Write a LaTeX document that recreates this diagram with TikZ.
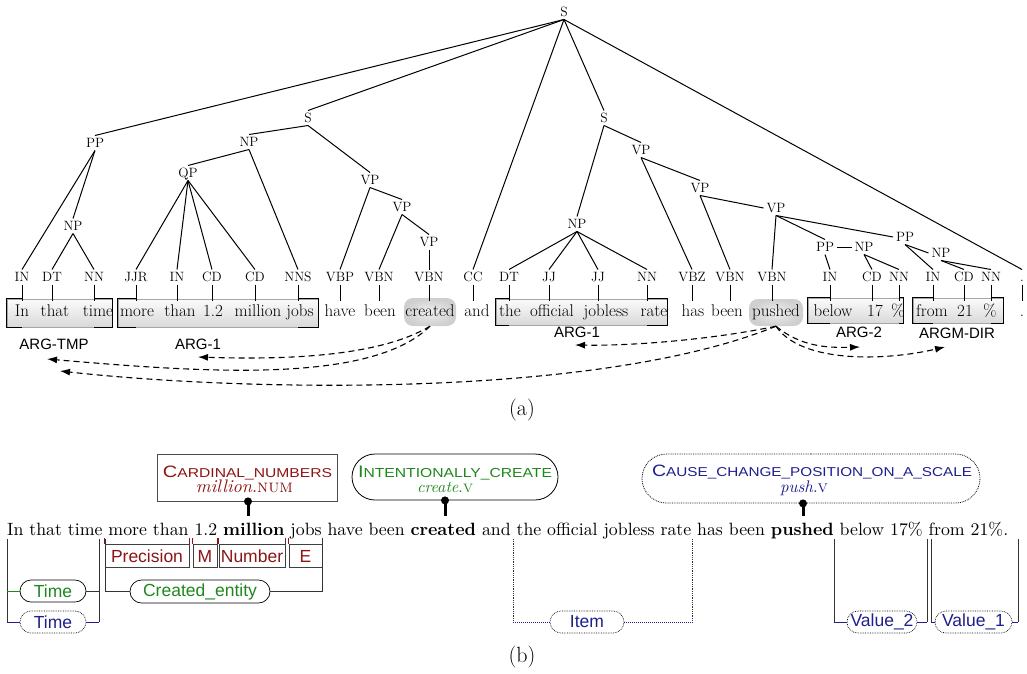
\documentclass[tikz,border=0pt]{standalone}
\usepackage{fontspec}
\newfontfamily\lab{Liberation Sans}
\usetikzlibrary{arrows.meta,shapes.misc}
\definecolor{fred}{RGB}{140,20,20}
\definecolor{fgreen}{RGB}{30,135,30}
\definecolor{fblue}{RGB}{30,30,140}
\tikzset{
 tag/.style={font=\fontsize{13.5}{14}\selectfont, inner sep=1pt, outer sep=2pt, text height=9pt, text depth=0pt},
 wrd/.style={font=\fontsize{17}{19}\selectfont, inner sep=1pt, outer sep=3pt, text height=11.5pt, text depth=3.5pt},
 tedge/.style={line width=1pt},
 brk/.style={line width=1.2pt},
 spanbox/.style={draw=gray!70, line width=0.4pt, top color=gray!3, bottom color=gray!30, inner sep=0pt},
 pill/.style={rounded corners=9pt, inner color=gray!12, outer color=gray!38, inner sep=0pt},
 argl/.style={font=\lab\fontsize{15}{16}\selectfont, inner sep=1pt},
 darr/.style={dash pattern=on 6pt off 4pt, line width=1.1pt, -{Latex[length=10pt,width=7pt]}},
 frm/.style={draw, line width=0.8pt, inner sep=0pt},
 role/.style={rounded rectangle, draw, line width=0.7pt, inner sep=0pt, minimum height=22pt, font=\lab\fontsize{17.5}{18}\selectfont},
 fe/.style={rectangle, draw=black!75, line width=0.7pt, inner sep=0pt, minimum height=23pt, text=fred, font=\lab\fontsize{17.5}{18}\selectfont},
 brl/.style={line width=0.8pt, black!80},
 capt/.style={font=\fontsize{22}{24}\selectfont},
}
\begin{document}
\begin{tikzpicture}[x=1pt,y=-1pt]
\useasboundingbox (0,0) rectangle (1027,673);

% ---------- (a) span boxes ----------
\node[spanbox, minimum width=105pt, minimum height=28pt] (b1) at (59.5,313) {};
\node[spanbox, minimum width=200pt, minimum height=28pt] (b2) at (218,313) {};
\node[spanbox, minimum width=171pt, minimum height=26pt] (b3) at (581.5,312) {};
\node[spanbox, minimum width=95pt, minimum height=25pt] (b4) at (855.5,310.5) {};
\node[spanbox, minimum width=90pt, minimum height=25pt] (b5) at (958,310.5) {};
\node[pill, minimum width=52pt, minimum height=28pt] (crp) at (430,312) {};
\node[pill, minimum width=54pt, minimum height=27pt] (pup) at (776,312.5) {};

% ---------- tree internal nodes ----------
\node[tag] (S) at (564,12) {S};
\node[tag] (PP1) at (95,143) {PP};
\node[tag] (NP1) at (73,226) {NP};
\node[tag] (S1) at (308,118) {S};
\node[tag] (NP2) at (249,142) {NP};
\node[tag] (QP) at (188,173) {QP};
\node[tag] (VP1) at (370,180) {VP};
\node[tag] (VP2) at (402,207) {VP};
\node[tag] (VP3) at (429,242) {VP};
\node[tag] (S2) at (604,118) {S};
\node[tag] (NP3) at (577,224) {NP};
\node[tag] (VP4) at (641,150) {VP};
\node[tag] (VP5) at (700,188) {VP};
\node[tag] (VP6) at (776,208) {VP};
\node[tag] (PP2) at (825,247) {PP};
\node[tag] (NP4) at (864,247) {NP};
\node[tag] (PP3) at (905,237) {PP};
\node[tag] (NP5) at (941,253) {NP};

% ---------- tags and words ----------
\foreach \i/\tx/\wx/\t/\w in {
 1/22/22/IN/In, 2/52/55/DT/that, 3/94/98/NN/time, 4/136/137/JJR/more, 5/177/180/IN/than,
 6/212/213/CD/1.2, 7/255/258/CD/million, 8/298/300/NNS/jobs, 9/340/340/VBP/have,
 10/379/380/VBN/been, 11/429/430/VBN/created, 12/473/477/CC/and, 13/509/510/DT/the,
 14/549/552/JJ/official, 15/598/606/JJ/jobless, 16/647/654/NN/rate, 17/692/693/VBZ/has,
 18/730/727/VBN/been, 19/772/776/VBN/pushed, 20/830/833/IN/below, 21/872/875/CD/17,
 22/899/898/NN/\%, 23/933/932/IN/from, 24/964/965/CD/21, 25/991/990/NN/\%, 26/1022/1022/./.}{
 \node[tag] (t\i) at (\tx,277) {\t};
 \node[wrd] (w\i) at (\wx,312) {\w};
 \draw[tedge] (t\i.south) -- (t\i.south |- w\i.north);
}

% ---------- tree edges ----------
\foreach \p/\c in {S/PP1, S/S1, S/t12, S/S2, S/t26, PP1/t1, PP1/NP1, NP1/t2, NP1/t3,
 S1/NP2, S1/VP1, NP2/QP, NP2/t8, QP/t4, QP/t5, QP/t6, QP/t7, VP1/t9, VP1/VP2,
 VP2/t10, VP2/VP3, VP3/t11, S2/NP3, S2/VP4, NP3/t13, NP3/t14, NP3/t15, NP3/t16,
 VP4/t17, VP4/VP5, VP5/t18, VP6/t19, VP6/PP2, PP2/t20, NP4/t21, NP4/t22,
 PP3/t23, NP5/t24, NP5/t25}
 \draw[tedge] (\p.south) -- (\c.north);
\draw[tedge] (VP5.south) -- (VP6.west);
\draw[tedge] (VP6.south) -- (PP3.west);
\draw[tedge] (PP2.east) -- (NP4.west);
\draw[tedge] (PP3.south) -- (NP5.west);

% ---------- brackets ----------
\foreach \b/\l/\r in {b1/t1/t3, b2/t4/t8, b3/t13/t16, b4/t20/t22, b5/t23/t25}{
 \draw[brk] (\b.north west -| \l) -- (\b.north west) -- (\b.south west) -- (\b.south west -| \l);
 \draw[brk] (\b.north east -| \r) -- (\b.north east) -- (\b.south east) -- (\b.south east -| \r);
}

% ---------- argument labels ----------
\node[argl] (lTMP) at (54,344) {ARG-TMP};
\node[argl] (lA1) at (198,344) {ARG-1};
\node[argl] (lA1b) at (577,332) {ARG-1};
\node[argl] (lA2) at (859,332) {ARG-2};
\node[argl] (lDIR) at (957,333) {ARGM-DIR};

% ---------- dashed arrows ----------
\coordinate (a1) at (198,357);
\coordinate (a2) at (47,359);
\coordinate (a3) at (575,345);
\coordinate (a4) at (60,371);
\coordinate (a5) at (860,347);
\coordinate (a6) at (945,347);
\draw[darr] (crp.south) .. controls (380,356) and (290,360) .. (a1);
\draw[darr] (crp.south) .. controls (370,385) and (200,372) .. (a2);
\draw[darr] (pup.south) .. controls (720,338) and (640,346) .. (a3);
\draw[darr] (pup.south) .. controls (600,398) and (250,392) .. (a4);
\draw[darr] (pup.south) .. controls (800,346) and (825,348) .. (a5);
\draw[darr] (pup.south) .. controls (800,362) and (880,362) .. (a6);

\node[capt] (capa) at (522,410) {(a)};

% ---------- (b) frames ----------
\node[frm, rectangle, draw=black!70, minimum width=180pt, minimum height=47pt] (f1) at (247,477.5) {};
\node[anchor=base, inner sep=0pt, text=fred] (f1a) at (247.5,477) {\resizebox{169pt}{11.5pt}{\lab\fontsize{16}{16}\selectfont C\fontsize{12.5}{12.5}\selectfont ARDINAL\_NUMBERS}};
\node[anchor=base, inner sep=0pt, text=fred] (f1b) at (244.5,492.5) {\resizebox{97pt}{!}{\itshape million\upshape.\textsc{num}}};

\node[frm, rounded rectangle, minimum width=206pt, minimum height=46pt] (f2) at (455,477) {};
\node[anchor=base, inner sep=0pt, text=fgreen] (f2a) at (455,477) {\resizebox{194pt}{11.5pt}{\lab\fontsize{16}{16}\selectfont I\fontsize{12.5}{12.5}\selectfont NTENTIONALLY\_CREATE}};
\node[anchor=base, inner sep=0pt, text=fgreen] (f2b) at (445,492.5) {\resizebox{56pt}{!}{\itshape create\upshape.\textsc{v}}};

\node[frm, rounded rectangle, densely dotted, minimum width=338pt, minimum height=49pt] (f3) at (811,478.5) {};
\node[anchor=base, inner sep=0pt, text=fblue] (f3a) at (812,476) {\resizebox{320pt}{11.5pt}{\lab\fontsize{16}{16}\selectfont C\fontsize{12.5}{12.5}\selectfont AUSE\_CHANGE\_POSITION\_ON\_A\_SCALE}};
\node[anchor=base, inner sep=0pt, text=fblue] (f3b) at (804,492) {\resizebox{48pt}{!}{\itshape push\upshape.\textsc{v}}};

\coordinate (e1) at (248,516);
\coordinate (e2) at (445,516);
\coordinate (e3) at (803,516);
\draw[line width=3pt] (f1.south -| e1) -- (e1);
\fill (f1.south -| e1) circle (4pt);
\draw[line width=3pt] (f2.south -| e2) -- (e2);
\fill (f2.south -| e2) circle (4pt);
\draw[line width=3pt] (f3.south -| e3) -- (e3);
\fill (f3.south -| e3) circle (4pt);

% ---------- sentence ----------
\node[anchor=base west, inner sep=0pt] (sent) at (7,535) {\resizebox{1001pt}{!}{In that time more than 1.2 \textbf{million} jobs have been \textbf{created} and the official jobless rate has been \textbf{pushed} below 17\% from 21\%.}};

% ---------- frame elements ----------
\node[fe, minimum width=84pt] (fe1) at (147,556) {Precision};
\node[fe, minimum width=24pt] (fe2) at (205,556) {M};
\node[fe, minimum width=66pt] (fe3) at (252,556) {Number};
\node[fe, minimum width=33pt] (fe4) at (305.5,556) {E};
\foreach \n in {fe1,fe2,fe3,fe4}{
 \draw[fred, line width=0.7pt] (\n.north west) -- ++(0,-6);
 \draw[fred, line width=0.7pt] (\n.north east) -- ++(0,-6);
}

% Time (green) and Time (blue)
\node[role, text=fgreen, minimum width=66pt] (tg) at (53,591) {Time};
\node[role, densely dotted, text=fblue, minimum width=66pt] (tb) at (53,622) {Time};
\draw[brl] (7,539) -- (7,622);
\draw[brl] (99,539) -- (99,622);
\draw[fgreen, line width=0.8pt] (7,591) -- (tg.west);
\draw[brl] (tg.east) -- (99,591);
\draw[fblue, line width=0.8pt] (7,622) -- (tb.west);
\draw[fblue, line width=0.8pt] (tb.east) -- (99,622);

% Created_entity
\node[role, text=fgreen, minimum width=140pt, minimum height=23pt] (ce) at (200,591.5) {Created\_entity};
\draw[brl] (105,539) |- (ce.west);
\draw[brl] (322,539) |- (ce.east);

% Item
\node[role, densely dotted, text=fblue, minimum width=74pt] (it) at (587,622) {Item};
\draw[brl, densely dotted, line width=1pt] (513,539) -- (513,622);
\draw[brl, densely dotted, line width=1pt] (692,539) -- (692,622);
\draw[fblue, densely dotted, line width=1pt] (513,622) -- (it.west);
\draw[fblue, densely dotted, line width=1pt] (it.east) -- (692,622);

% Value_2
\node[role, densely dotted, text=fblue, minimum width=70pt] (v2) at (882,622) {Value\_2};
\draw[brl] (834,539) -- (834,622);
\draw[brl] (927,539) -- (927,622);
\draw[fblue, line width=0.8pt] (834,622) -- (v2.west);
\draw[fblue, line width=0.8pt] (v2.east) -- (927,622);

% Value_1
\node[role, densely dotted, text=fblue, minimum width=77pt] (v1) at (973.5,622) {Value\_1};
\draw[brl] (931,539) -- (931,622);
\draw[brl] (1018,539) -- (1018,622);
\draw[fblue, line width=0.8pt] (931,622) -- (v1.west);
\draw[fblue, line width=0.8pt] (v1.east) -- (1018,622);

\node[capt] (capb) at (522,657) {(b)};
\end{tikzpicture}
\end{document}
